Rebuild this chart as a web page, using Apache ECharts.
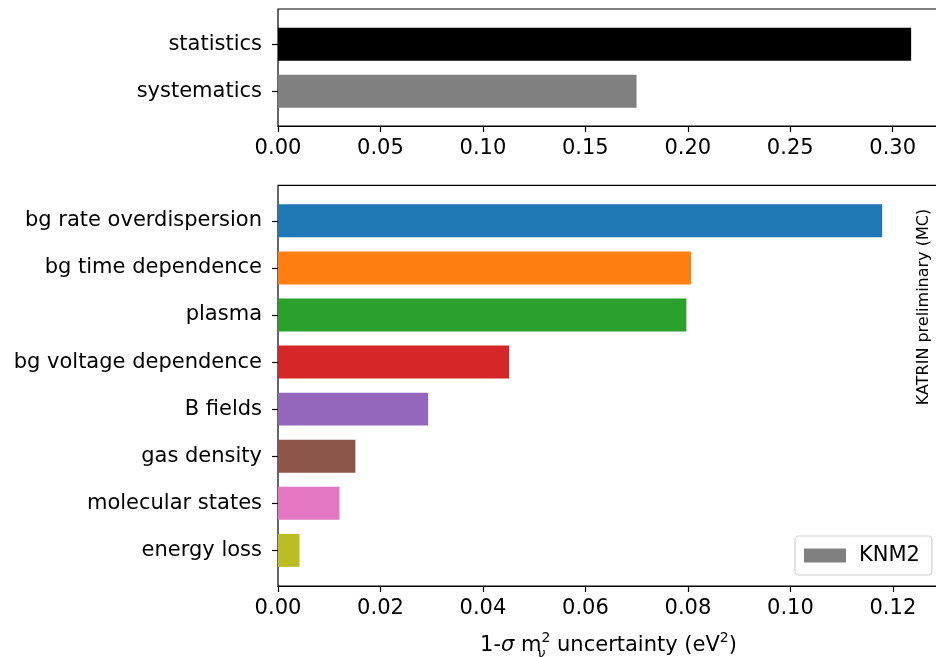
<!DOCTYPE html>
<html><head><meta charset="utf-8">
<script src="https://cdn.jsdelivr.net/npm/echarts@6/dist/echarts.min.js"></script>
<style>html,body{margin:0;padding:0;background:#fff}#c{width:936px;height:657px}</style>
</head><body><div id="c"></div>
<script>
const topCategories = ['statistics', 'systematics'];
const topValues = [0.309, 0.175];
const topColors = ['#000000', '#808080'];
const topTicks = [0, 0.05, 0.10, 0.15, 0.20, 0.25, 0.30];

const botCategories = ['bg rate overdispersion', 'bg time dependence', 'plasma', 'bg voltage dependence', 'B fields', 'gas density', 'molecular states', 'energy loss'];
const botValues = [0.1179, 0.0806, 0.0797, 0.0451, 0.0293, 0.0151, 0.0120, 0.0042];
const botColors = ['#1f77b4', '#ff7f0e', '#2ca02c', '#d62728', '#9467bd', '#8c564b', '#e377c2', '#bcbd22'];
const botTicks = [0, 0.02, 0.04, 0.06, 0.08, 0.10, 0.12];

const FONT = 'DejaVu Sans';
const FS = 21;
const L = 278, W = 661;
const topMax = 0.3226, botMax = 0.129;

const chart = echarts.init(document.getElementById('c'), null, {renderer: 'canvas'});

function frameX(idx, max, interval, ticks, name) {
  const ax = {
    gridIndex: idx, type: 'value', min: 0, max: max, interval: interval,
    axisLine: {show: true, lineStyle: {color: '#000', width: 1.2}},
    axisTick: {show: true, length: 6, customValues: ticks, lineStyle: {color: '#000', width: 1.2}},
    axisLabel: {show: true, color: '#000', fontFamily: FONT, fontSize: FS, margin: 12,
      customValues: ticks, formatter: v => v.toFixed(2)},
    splitLine: {show: false}
  };
  if (name) {
    ax.name = name;
    ax.nameLocation = 'middle';
    ax.nameGap = 45;
    ax.nameTextStyle = {color: '#000', fontFamily: FONT, fontSize: FS,
      rich: {
        n: {fontFamily: FONT, fontSize: FS, color: '#000', lineHeight: 30},
        it: {fontFamily: FONT, fontSize: FS, fontStyle: 'italic', color: '#000', lineHeight: 30},
        sub: {fontFamily: FONT, fontSize: 14, fontStyle: 'italic', color: '#000', verticalAlign: 'bottom', lineHeight: 14, width: 0.01},
        sup: {fontFamily: FONT, fontSize: 14, color: '#000', verticalAlign: 'top', lineHeight: 16}
      }};
  }
  return ax;
}
function hiddenX(idx, max) {
  return {gridIndex: idx, type: 'value', min: 0, max: max, show: false};
}
function catY(idx, cats) {
  return {
    gridIndex: idx, type: 'category', data: cats, inverse: true,
    axisLine: {show: false},
    axisTick: {show: true, alignWithLabel: true, length: 6, lineStyle: {color: '#000', width: 1.2}},
    axisLabel: {color: '#000', fontFamily: FONT, fontSize: FS, margin: 16}
  };
}
const gBase = {left: L, width: W, outerBoundsMode: 'none', containLabel: false};

const option = {
  animation: false,
  backgroundColor: '#fff',
  grid: [
    Object.assign({top: 9, height: 117, show: true, borderColor: '#000', borderWidth: 1.2, backgroundColor: 'transparent'}, gBase),
    Object.assign({top: 20.7, height: 94}, gBase),
    Object.assign({top: 185.3, height: 400.7, show: true, borderColor: '#000', borderWidth: 1.2, backgroundColor: 'transparent'}, gBase),
    Object.assign({top: 197.3, height: 376.6}, gBase)
  ],
  xAxis: [
    frameX(0, topMax, 0.05, topTicks),
    hiddenX(1, topMax),
    frameX(2, botMax, 0.02, botTicks, '{n|1-}{it|σ}{n| m}{sub|ν}{sup|2}{n| uncertainty (eV}{sup|2}{n|)}'),
    hiddenX(3, botMax)
  ],
  yAxis: [
    {gridIndex: 0, type: 'value', show: false, min: 0, max: 1},
    catY(1, topCategories),
    {gridIndex: 2, type: 'value', show: false, min: 0, max: 1},
    catY(3, botCategories)
  ],
  legend: {
    left: 795, top: 536, orient: 'horizontal',
    data: ['KNM2'],
    icon: 'rect', itemWidth: 42, itemHeight: 14, itemGap: 10,
    padding: [9, 12, 9, 9],
    borderColor: '#d0d0d0', borderWidth: 1.2, borderRadius: 4,
    backgroundColor: 'rgba(255,255,255,0.8)',
    textStyle: {color: '#000', fontFamily: FONT, fontSize: FS, padding: [0, 0, 0, 8]}
  },
  series: [
    {type: 'bar', name: 'top', xAxisIndex: 1, yAxisIndex: 1, barWidth: '70%',
      data: topValues.map((v, i) => ({value: v, itemStyle: {color: topColors[i]}}))},
    {type: 'bar', name: 'KNM2', xAxisIndex: 3, yAxisIndex: 3, barWidth: '70%',
      itemStyle: {color: '#808080'},
      data: botValues.map((v, i) => ({value: v, itemStyle: {color: botColors[i]}}))}
  ],
  graphic: [
    {type: 'text', x: 924, y: 307, rotation: Math.PI / 2,
      style: {text: 'KATRIN preliminary (MC)', fontFamily: FONT, fontSize: 16, fill: '#000', align: 'center', verticalAlign: 'middle'}}
  ]
};
chart.setOption(option);
</script>
</body></html>
